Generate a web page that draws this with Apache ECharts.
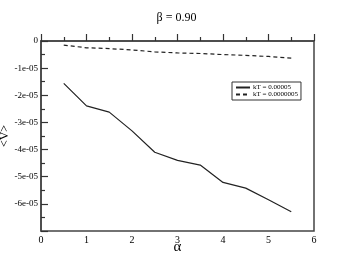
<!DOCTYPE html>
<html><head><meta charset="utf-8">
<script src="https://cdn.jsdelivr.net/npm/echarts@6/dist/echarts.min.js"></script>
<style>html,body{margin:0;padding:0;background:#fff}#c{width:353px;height:273px}</style>
</head><body><div id="c"></div>
<script>
var alphas = [0.5, 1.0, 1.5, 2.0, 2.5, 3.0, 3.5, 4.0, 4.5, 5.0, 5.5];
var vHigh = [-1.56e-5, -2.39e-5, -2.62e-5, -3.31e-5, -4.10e-5, -4.40e-5, -4.57e-5, -5.21e-5, -5.42e-5, -5.85e-5, -6.29e-5];
var vLow = [-0.15e-5, -0.25e-5, -0.28e-5, -0.33e-5, -0.40e-5, -0.44e-5, -0.46e-5, -0.50e-5, -0.53e-5, -0.57e-5, -0.63e-5];
var seriesNames = ['kT = 0.00005', 'kT = 0.0000005'];
var xTicks = ['0','1','2','3','4','5','6'];
var yTicks = ['0','-1e-05','-2e-05','-3e-05','-4e-05','-5e-05','-6e-05',''];
var titleText = 'β = 0.90';

function pairs(xs, ys){ return xs.map(function(x,i){return [x, ys[i]];}); }
var font = 'Liberation Serif';
var chart = echarts.init(document.getElementById('c'));
chart.setOption({
  animation: false,
  title: {text: titleText, left: 'center', top: 7, textStyle: {fontFamily: font, fontSize: 12, fontWeight: 'normal', color: '#000'}},
  grid: {left: 41, right: 39, top: 41, bottom: 42, show: true, borderColor: '#444', borderWidth: 1.5,
    containLabel: false, outerBoundsMode: 'none'},
  legend: {
    left: 232, top: 82, orient: 'vertical', itemGap: 0, itemWidth: 14, itemHeight: 8,
    padding: [2, 3, 2, 3], borderColor: '#333', borderWidth: 1,
    itemStyle: {opacity: 0},
    textStyle: {fontFamily: font, fontSize: 7, color: '#000', padding: [0,0,0,-2]},
    data: seriesNames
  },
  xAxis: {
    type: 'value', min: 0, max: 6, interval: 1,
    name: 'α', nameLocation: 'middle', nameGap: 9, nameMoveOverlap: false,
    nameTextStyle: {fontFamily: font, fontSize: 15, color: '#000'},
    axisLine: {lineStyle: {color: '#444', width: 1.5}},
    axisTick: {inside: true, length: 7, lineStyle: {color: '#333', width: 1.2}},
    minorTick: {show: true, splitNumber: 2, length: 4, lineStyle: {color: '#333', width: 1.2}},
    splitLine: {show: false},
    axisLabel: {fontFamily: font, fontSize: 10, color: '#000', margin: 4,
      formatter: function(v){ return xTicks[Math.round(v)]; }}
  },
  yAxis: {
    type: 'value', min: -7e-5, max: 0, interval: 1e-5,
    name: '<V>', nameLocation: 'middle', nameGap: 30, nameRotate: 90, nameMoveOverlap: false,
    nameTextStyle: {fontFamily: font, fontSize: 12, color: '#000'},
    axisLine: {lineStyle: {color: '#444', width: 1.5}},
    axisTick: {inside: true, length: 7, lineStyle: {color: '#333', width: 1.2}},
    minorTick: {show: true, splitNumber: 2, length: 4, lineStyle: {color: '#333', width: 1.2}},
    splitLine: {show: false},
    axisLabel: {fontFamily: font, fontSize: 9, color: '#000', margin: 3,
      formatter: function(v){ return yTicks[Math.round(-v*1e5)]; }}
  },
  series: [
    {name: seriesNames[0], type: 'line', data: pairs(alphas, vHigh), symbol: 'none',
     lineStyle: {color: '#222', width: 1.2}, itemStyle: {color: '#222'}},
    {name: seriesNames[1], type: 'line', data: pairs(alphas, vLow), symbol: 'none',
     lineStyle: {color: '#222', width: 1.2, type: [4, 3]}, itemStyle: {color: '#222'}}
  ]
});
</script></body></html>
